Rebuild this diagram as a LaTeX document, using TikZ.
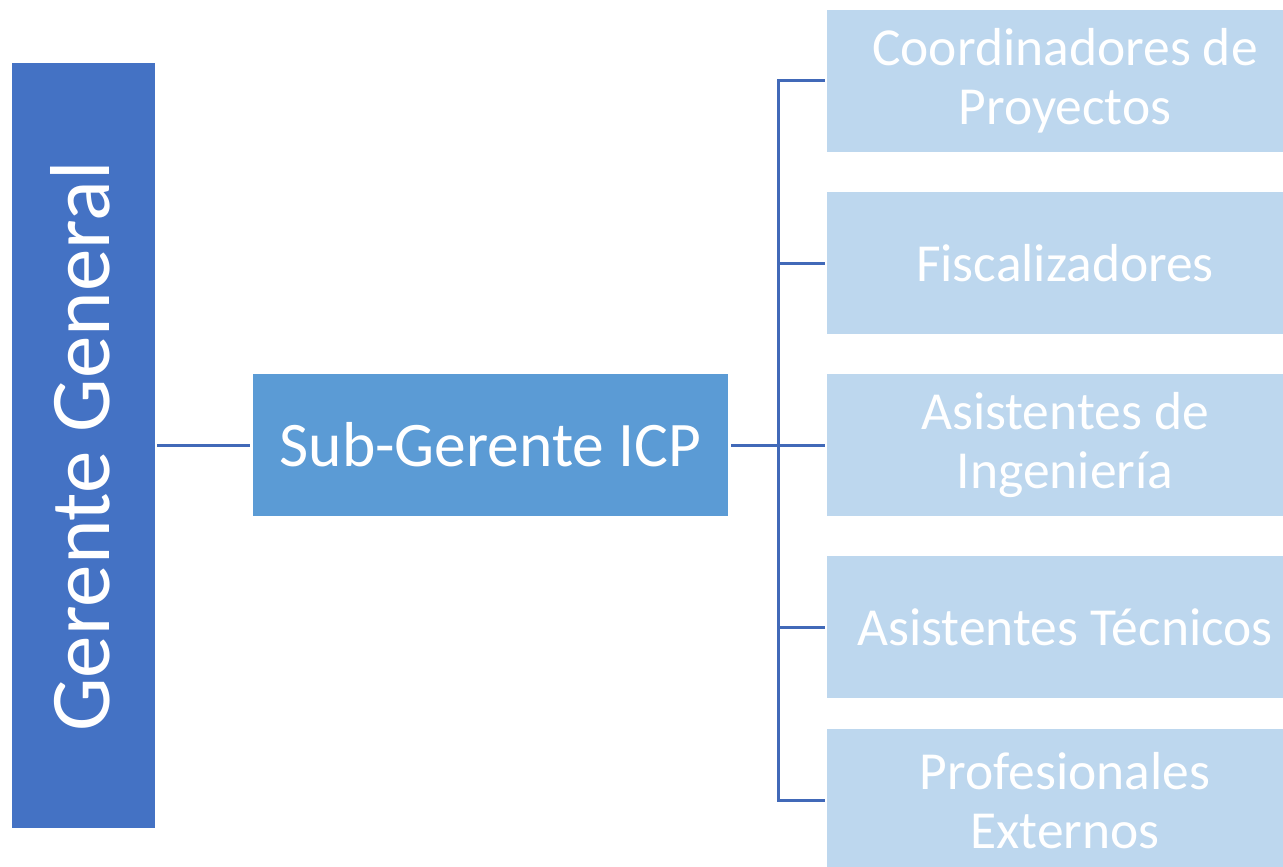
\documentclass[tikz,border=0pt]{standalone}
\usepackage{fontspec}
\setmainfont{Carlito}
\definecolor{ggblue}{HTML}{4472C4}
\definecolor{subblue}{HTML}{5B9BD5}
\definecolor{lightblue}{HTML}{BDD7EE}
\definecolor{linecol}{HTML}{4169B8}
\begin{document}
\begin{tikzpicture}[x=1pt,y=-1pt,
  gbox/.style={fill=ggblue,draw=none,minimum width=143pt,minimum height=765pt,inner sep=0pt,text=white},
  sbox/.style={fill=subblue,draw=none,minimum width=475pt,minimum height=142.5pt,inner sep=0pt,text=white,font=\fontsize{63.5}{70}\selectfont},
  rbox/.style={fill=lightblue,draw=none,minimum width=476pt,minimum height=142.5pt,inner sep=0pt,text=white,align=center,font=\fontsize{53.5}{59}\selectfont},
  conn/.style={draw=linecol,line width=3pt}]
\useasboundingbox (0,0) rectangle (1283,867);
\fill[white] (0,0) rectangle (1283,867);
\node[gbox] (gg) at (83.5,445.5) {};
\node[rotate=90,text=white,font=\fontsize{85}{90}\selectfont,inner sep=0pt] (ggt) at (80,446.5) {Gerente General};
\node[sbox] (sub) at (490.5,445) {Sub-Gerente ICP};
\node[rbox] (r1) at (1065,81) {Coordinadores de\\Proyectos};
\node[rbox] (r2) at (1065,263) {Fiscalizadores};
\node[rbox] (r3) at (1065,445) {Asistentes de\\Ingeniería};
\node[rbox] (r4) at (1065,627) {Asistentes Técnicos};
\node[rbox] (r5) at (1065,800.5) {Profesionales\\Externos};
\coordinate (bus) at (778,445);
\draw[conn,shorten <=2pt,shorten >=3pt] (gg.east |- sub.west) -- (sub.west);
\draw[conn,shorten <=3pt] (sub.east) -- (bus);
\draw[conn,line join=miter] ([xshift=-2pt]r1.west) -- (bus |- r1.west) -- (bus |- r5.west) -- ([xshift=-2pt]r5.west);
\foreach \r in {r2,r3,r4}{
  \draw[conn,shorten >=2pt] (bus |- \r.west) -- (\r.west);
}
\end{tikzpicture}
\end{document}
